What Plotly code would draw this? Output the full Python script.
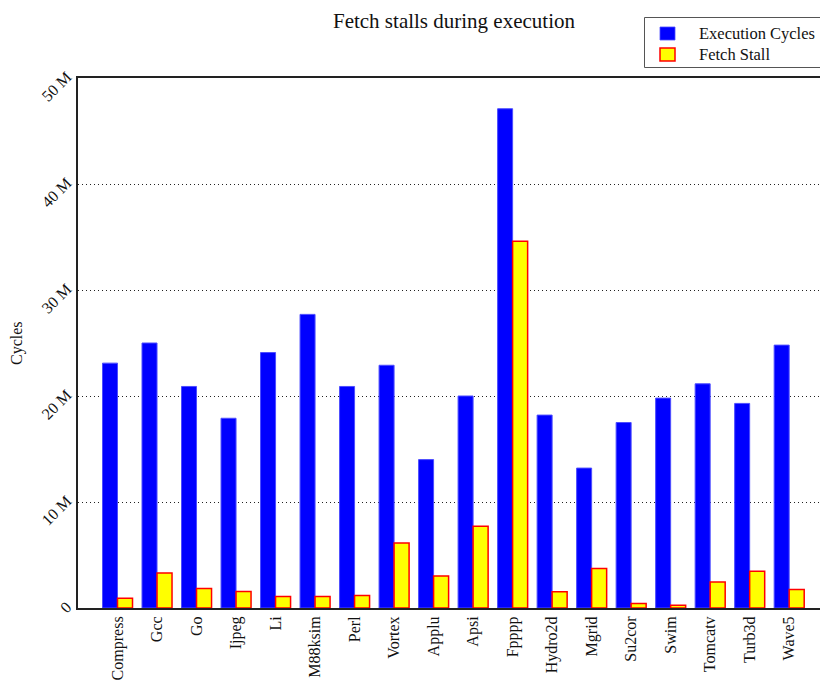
import plotly.graph_objects as go

# Benchmarks and measured cycle counts (millions)
benchmarks = ["Compress", "Gcc", "Go", "Ijpeg", "Li", "M88ksim", "Perl", "Vortex",
              "Applu", "Apsi", "Fpppp", "Hydro2d", "Mgrid", "Su2cor", "Swim",
              "Tomcatv", "Turb3d", "Wave5"]
execution_cycles = [23.1, 25.0, 20.9, 17.9, 24.1, 27.7, 20.9, 22.9,
                    14.0, 20.0, 47.1, 18.2, 13.2, 17.5, 19.8,
                    21.15, 19.3, 24.8]
fetch_stall = [0.92, 3.31, 1.85, 1.56, 1.08, 1.08, 1.18, 6.14,
               3.03, 7.71, 34.6, 1.53, 3.73, 0.42, 0.25,
               2.45, 3.47, 1.75]

y_tick_vals = [0, 10, 20, 30, 40, 50]
y_tick_text = ["0", "10 M", "20 M", "30 M", "40 M", "50 M"]

SERIF = "Liberation Serif"
W, H = 820, 681
L, R, T, B = 78, 0, 78, 73
PW, PH = W - L - R, H - T - B


def px_x(px):
    """Pixel column -> paper x."""
    return (px - L) / PW


def px_y(py):
    """Pixel row -> paper y."""
    return (H - B - py) / PH


series = [
    dict(name="Execution Cycles", values=execution_cycles,
         fill="#0000ff", edge="#4d4dff", edge_w=1),
    dict(name="Fetch Stall", values=fetch_stall,
         fill="#ffff00", edge="#ff0000", edge_w=1.5),
]

fig = go.Figure()
for s in series:
    fig.add_trace(go.Bar(
        name=s["name"],
        x=benchmarks,
        y=[v * 1e6 for v in s["values"]],
        marker=dict(color=s["fill"], line=dict(color=s["edge"], width=s["edge_w"])),
        showlegend=False,
    ))

# Boxed key in the top-right corner
shapes = [dict(type="rect", xref="paper", yref="paper",
               x0=px_x(644.5), x1=px_x(821), y0=px_y(67.5), y1=px_y(17.5),
               line=dict(color="#555", width=1), fillcolor="white", layer="above")]
annotations = []
for i, s in enumerate(series):
    cy = 33.5 + 21 * i
    shapes.append(dict(type="rect", xref="paper", yref="paper",
                       x0=px_x(660), x1=px_x(675), y0=px_y(cy + 6.5), y1=px_y(cy - 6.5),
                       line=dict(color=s["edge"], width=1.5 if i else 0.8),
                       fillcolor=s["fill"], layer="above"))
    annotations.append(dict(text=s["name"], xref="paper", yref="paper",
                            x=px_x(697), y=px_y(cy), xanchor="left", yanchor="middle",
                            showarrow=False,
                            font=dict(family=SERIF, size=16.5, color="#111")))

annotations.append(dict(
    text="Cycles", textangle=-90,
    xref="paper", yref="paper",
    x=px_x(17), y=0.5,
    xanchor="center", yanchor="middle",
    showarrow=False,
    font=dict(family=SERIF, size=16, color="#111"),
))

fig.update_layout(
    width=W,
    height=H,
    margin=dict(l=L, r=R, t=T, b=B),
    paper_bgcolor="white",
    plot_bgcolor="white",
    barmode="group",
    bargap=0.24,
    bargroupgap=0,
    showlegend=False,
    font=dict(family=SERIF, size=16, color="#111"),
    title=dict(
        text="Fetch stalls during execution",
        x=454 / W, xref="container", xanchor="center",
        y=1 - 21 / H, yref="container", yanchor="middle",
        font=dict(family=SERIF, size=21, color="#111"),
    ),
    xaxis=dict(
        type="category",
        range=[-1.0, 17.78],
        tickangle=-90,
        showline=True, linecolor="#222", linewidth=2, mirror=True,
        showgrid=False, ticks="",
        tickfont=dict(family=SERIF, size=16, color="#111"),
    ),
    yaxis=dict(
        range=[0, 50e6],
        tickvals=[v * 1e6 for v in y_tick_vals],
        ticktext=y_tick_text,
        tickangle=-45,
        ticklabelstandoff=6,
        ticklabelshift=-3,
        showline=True, linecolor="#222", linewidth=2,
        showgrid=True, gridcolor="#222", gridwidth=1, griddash="1px,3px",
        zeroline=False, ticks="",
        tickfont=dict(family=SERIF, size=16, color="#111"),
    ),
    shapes=shapes,
    annotations=annotations,
)

fig.write_html("out.html")
